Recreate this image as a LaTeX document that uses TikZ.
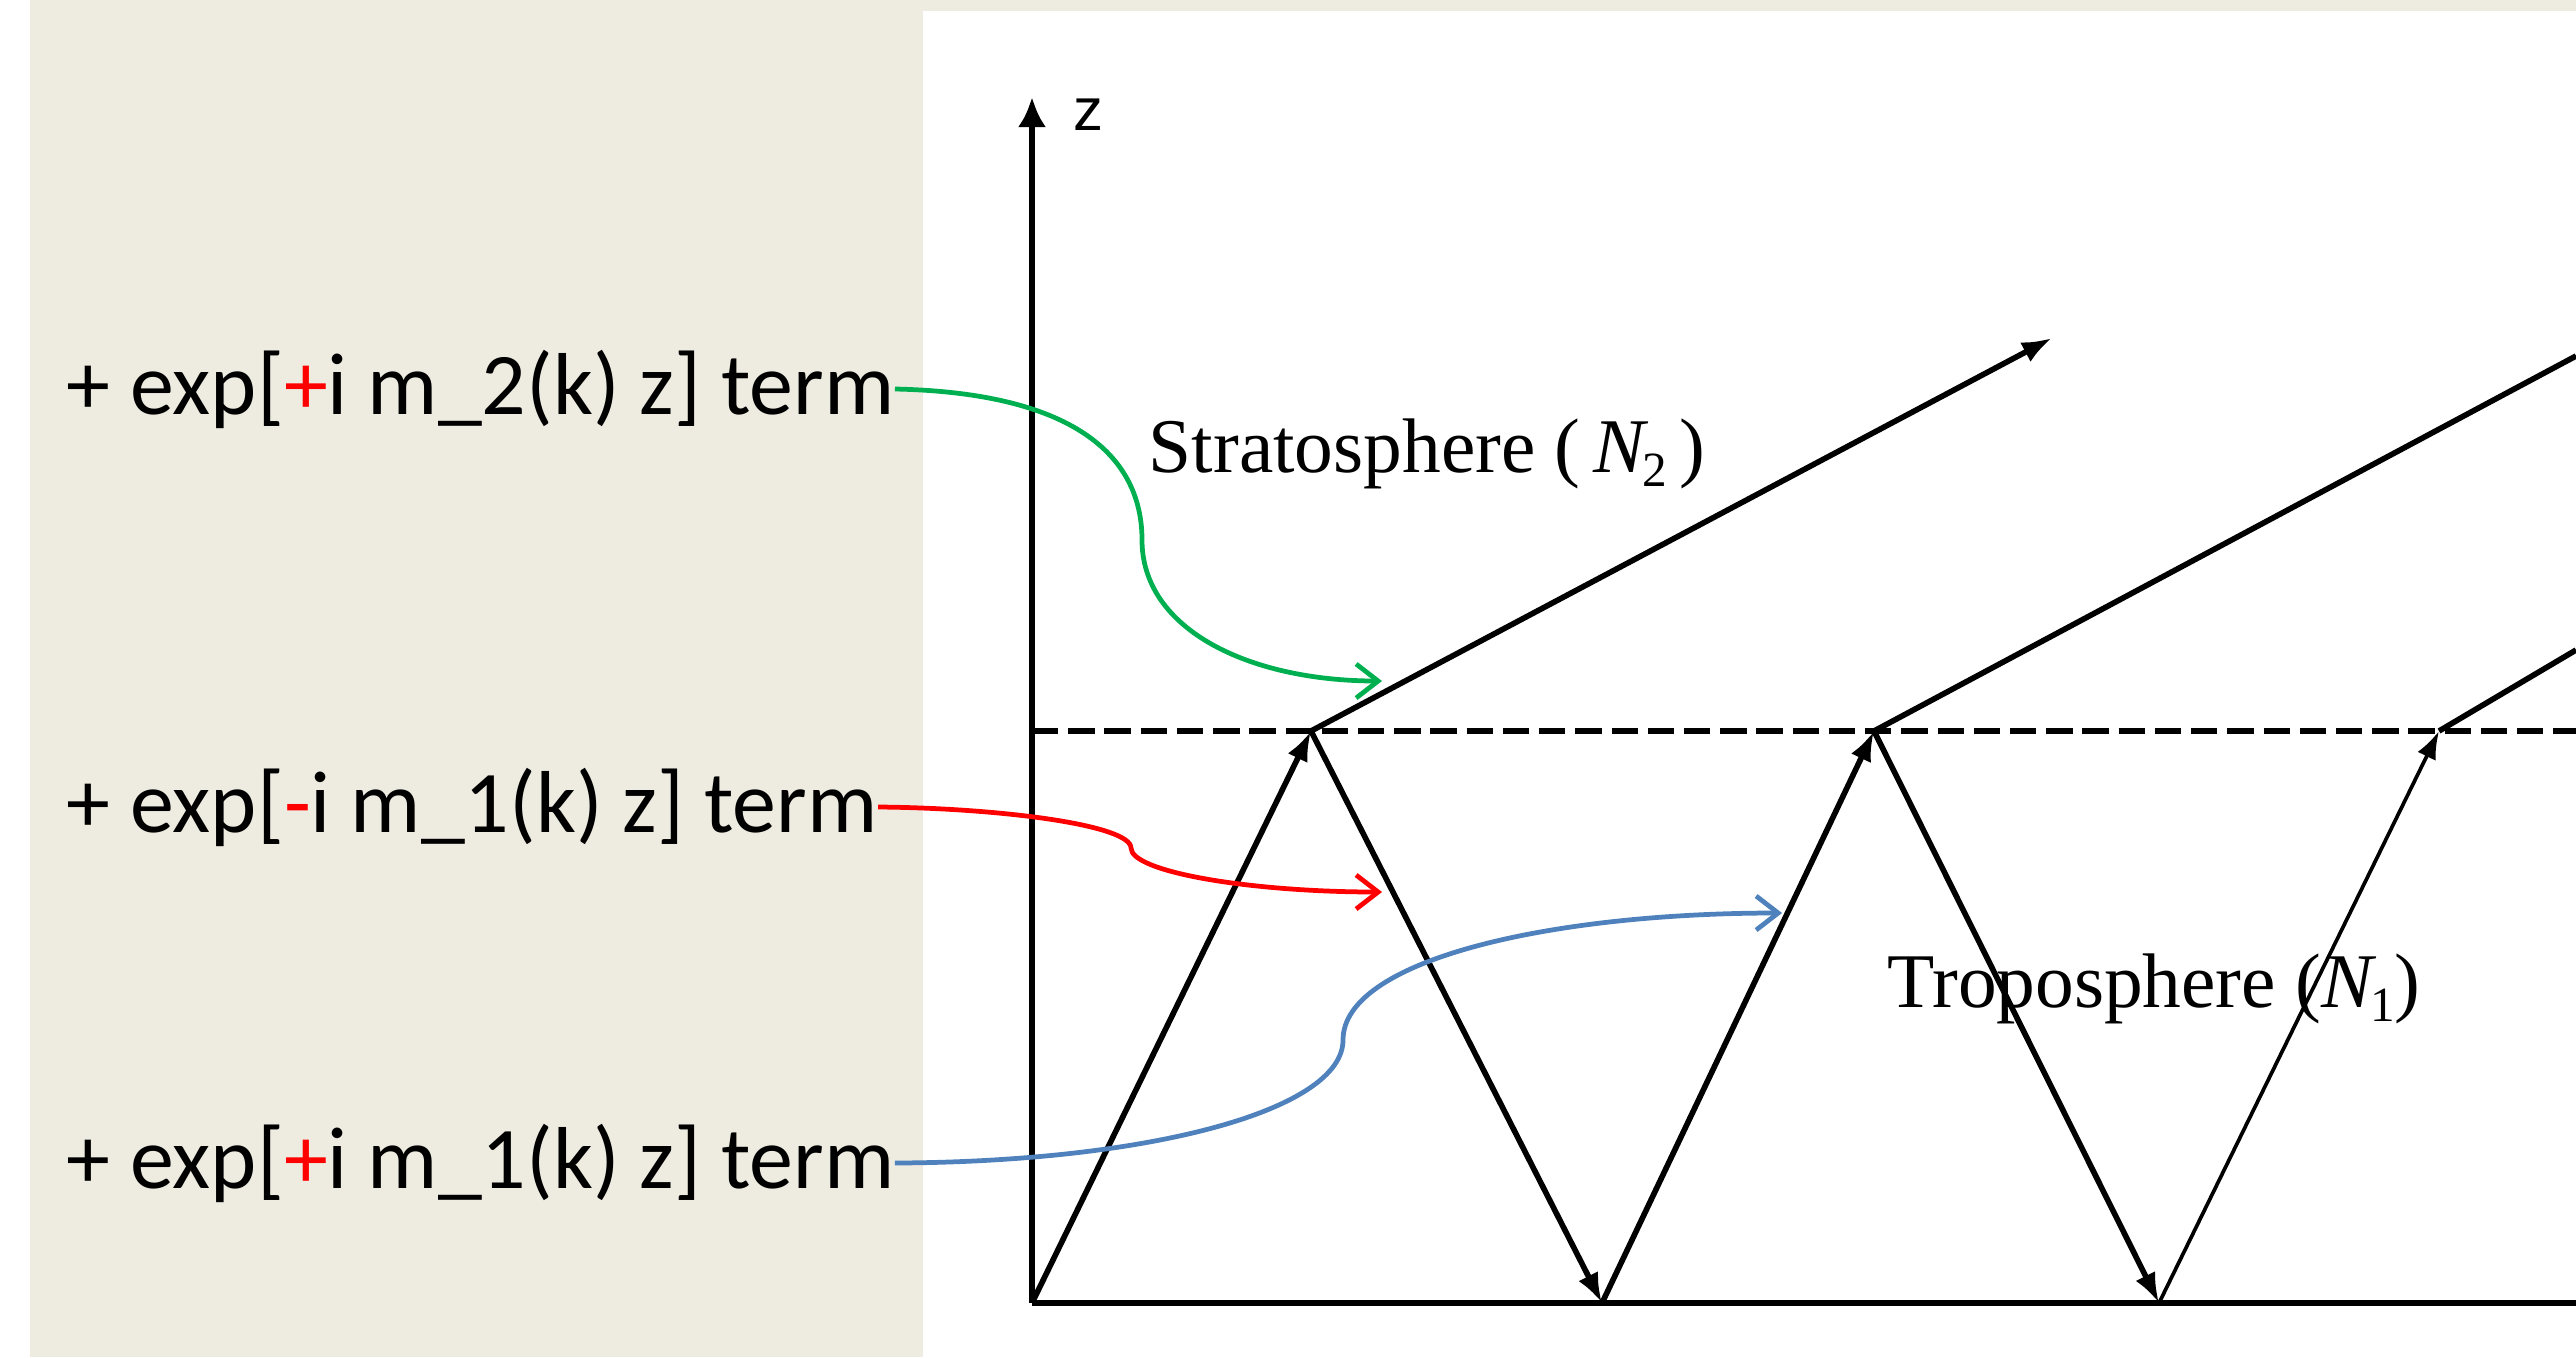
\documentclass[tikz,border=0pt]{standalone}
\usepackage{fontspec}
\setmainfont{Liberation Serif}
\newfontfamily\calib{Carlito}
\newfontfamily\arialf{Liberation Sans}
\usetikzlibrary{arrows.meta}
\definecolor{bg}{HTML}{EEECE1}
\definecolor{cgreen}{HTML}{00B050}
\definecolor{cblue}{HTML}{4F81BD}
\definecolor{cred}{HTML}{FF0000}
\begin{document}
\begin{tikzpicture}[x=0.01cm,y=-0.01cm,
  term/.style={font=\calib\fontsize{25}{30}\selectfont, anchor=west, inner sep=0pt, text=black},
  layer/.style={font=\fontsize{22}{26}\selectfont, anchor=base west, inner sep=0pt},
  axisline/.style={line width=1.9pt, -{Latex[length=0.3cm,width=0.28cm]}},
  ray/.style={line width=1.6pt, -{Latex[length=0.3cm,width=0.22cm]}},
  thinray/.style={line width=1.05pt, -{Latex[length=0.28cm,width=0.2cm]}},
  link/.style={line width=1.35pt, -{Straight Barb[length=0.22cm,width=0.34cm]}}
]
\useasboundingbox (0,0) rectangle (2576,1357);
% backgrounds
\fill[white] (0,0) rectangle (2576,1357);
\fill[bg] (30,0) rectangle (923,1357);
\fill[bg] (923,0) rectangle (2576,11);

% key points
\coordinate (O) at (1032,1303);
\coordinate (ztop) at (1032,97);
\coordinate (xend) at (2576,1303);
\coordinate (dl) at (1032,731);
\coordinate (dr) at (2576,731);
\coordinate (P1) at (1311,731);
\coordinate (V1) at (1602,1303);
\coordinate (P2) at (1874,731);
\coordinate (V2) at (2159,1303);
\coordinate (P3) at (2439,731);
\coordinate (T1) at (2052,338);
\coordinate (T2) at (2576,356);
\coordinate (T3) at (2576,650);
\coordinate (G) at (1382,681);
\coordinate (R) at (1382,892);
\coordinate (B) at (1782,913);

% axes
\draw[axisline] (O) -- (ztop);
\draw[line width=1.9pt] (O) -- (xend);
\node[font=\arialf\fontsize{17}{19}\selectfont, inner sep=0pt] (zlab) at (1088,115) {z};

% interface
\draw[line width=1.5pt, dash pattern=on 7.5pt off 2.8pt] (dl) -- (dr);

% zigzag rays
\draw[ray] (O) -- (P1);
\draw[ray] (P1) -- (V1);
\draw[ray] (V1) -- (P2);
\draw[ray] (P2) -- (V2);
\draw[thinray] (V2) -- (P3);
% transmitted rays
\draw[ray] (P1) -- (T1);
\draw[line width=1.6pt] (P2) -- (T2);
\draw[line width=1.6pt] (P3) -- (T3);

% layer labels
\node[layer] (strat) at (1148,472) {Stratosphere (\,\textit{N}\kern-0.08em\raisebox{-0.4ex}{\fontsize{14}{16}\selectfont 2}\,)};
\node[layer] (trop) at (1887,1007) {Troposphere (\textit{N}\kern-0.08em\raisebox{-0.4ex}{\fontsize{14}{16}\selectfont 1})};

% terms
\node[term] (t1) at (66,389) {+ exp[{\color{cred}+}i m\_2(k) z] term};
\node[term] (t2) at (66,807) {+ exp[{\color{cred}-}i m\_1(k) z] term};
\node[term] (t3) at (66,1163) {+ exp[{\color{cred}+}i m\_1(k) z] term};

% coloured links
\draw[link, cgreen] (t1.east) .. controls (1080,393) and (1142,460) .. (1142,540)
  .. controls (1142,630) and (1250,681) .. (G);
\draw[link, cred] (t2.east) .. controls (1000,808) and (1131,825) .. (1131,848)
  .. controls (1131,872) and (1250,892) .. (R);
\draw[link, cblue] (t3.east) .. controls (1150,1162) and (1343,1110) .. (1343,1040)
  .. controls (1343,960) and (1550,913) .. (B);
\end{tikzpicture}
\end{document}
